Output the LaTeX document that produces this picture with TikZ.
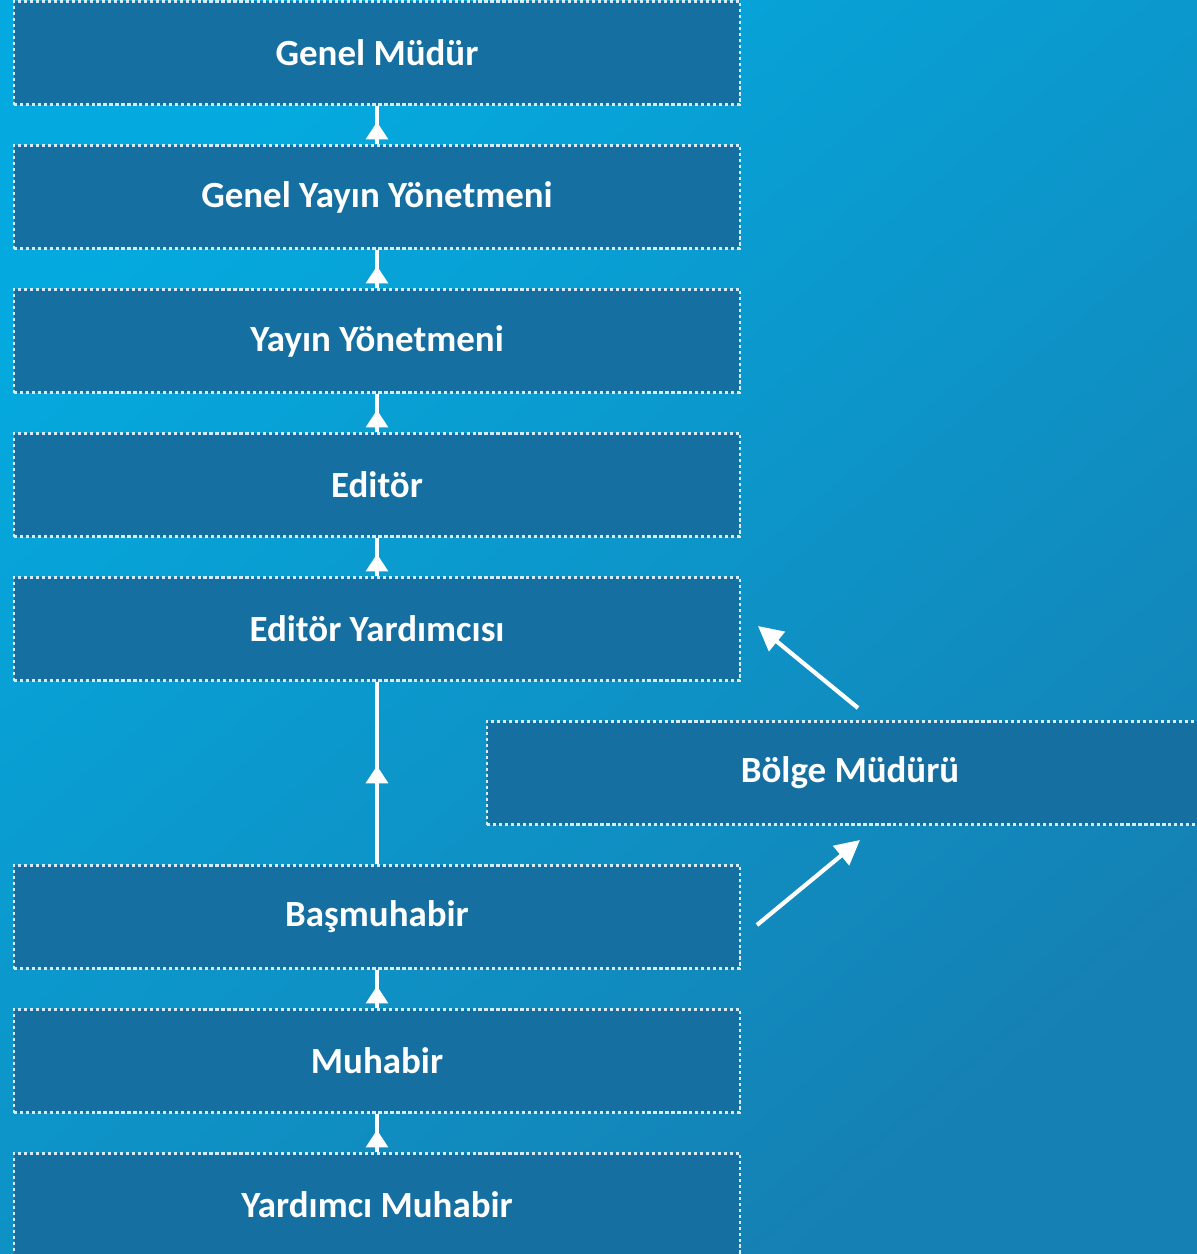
\documentclass[tikz,border=0pt]{standalone}
\usepackage{fontspec}
\setmainfont{Carlito}
\usetikzlibrary{arrows.meta,decorations.markings}
\definecolor{bgtop}{HTML}{04AADF}
\definecolor{bgbottom}{HTML}{1580B3}
\definecolor{boxblue}{HTML}{166FA1}
\definecolor{dotline}{HTML}{D8ECF7}

\begin{document}
\begin{tikzpicture}[x=0.01cm,y=-0.01cm,
    kutu/.style={draw=dotline, fill=boxblue, line width=0.6pt,
      dash pattern=on 0.9pt off 0.8pt, minimum width=7.26cm,
      minimum height=1.03cm, inner sep=0pt, text=white,
      font=\fontsize{10.5}{13}\selectfont\bfseries},
    yukari/.style={draw=white, line width=1.1pt, postaction={decorate},
      decoration={markings, mark=at position #1 with
        {\arrow{Triangle[length=5pt,width=6.2pt]}}}},
    yukari/.default=0.58,
    capraz/.style={draw=white, line width=1.2pt,
      -{Triangle[length=7pt,width=7pt]}}]
    \useasboundingbox (0,0) rectangle (1197,1254);
    \clip (0,0) rectangle (1197,1254);
    \shade[top color=bgtop, bottom color=bgbottom, shading angle=40]
      (0,0) rectangle (1197,1254);
    \node[kutu] (gm) at (377,53) {Genel Müdür};
    \node[kutu] (gyy) at (377,197) {Genel Yayın Yönetmeni};
    \node[kutu] (yy) at (377,341) {Yayın Yönetmeni};
    \node[kutu] (ed) at (377,485) {Editör};
    \node[kutu] (edy) at (377,629) {Editör Yardımcısı};
    \node[kutu] (bm) at (850,773) {Bölge Müdürü};
    \node[kutu] (basm) at (377,917) {Başmuhabir};
    \node[kutu] (muh) at (377,1061) {Muhabir};
    \node[kutu] (ymuh) at (377,1205) {Yardımcı Muhabir};
    \draw[yukari] (gyy.north) -- (gm.south);
    \draw[yukari] (yy.north) -- (gyy.south);
    \draw[yukari] (ed.north) -- (yy.south);
    \draw[yukari] (edy.north) -- (ed.south);
    \draw[yukari=0.54] (basm.north) -- (edy.south);
    \draw[yukari] (muh.north) -- (basm.south);
    \draw[yukari] (ymuh.north) -- (muh.south);
    \coordinate (bmcik) at (858,708);
    \coordinate (edyuc) at (758,626);
    \coordinate (basmcik) at (757,925);
    \coordinate (bmuc) at (860,840);
    \draw[capraz] (bmcik) -- (edyuc);
    \draw[capraz] (basmcik) -- (bmuc);
\end{tikzpicture}
\end{document}
